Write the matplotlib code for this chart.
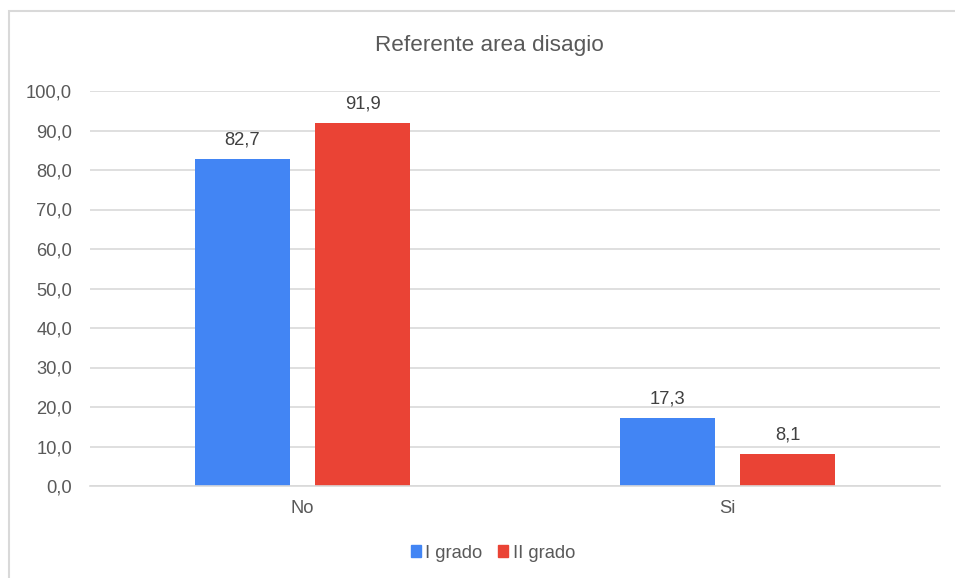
import matplotlib.pyplot as plt
import numpy as np
from matplotlib.patches import Patch, Rectangle

# Data.
categories = ["No", "Si"]
series_names = ["I grado", "II grado"]
grado_1 = [82.7, 17.3]
grado_2 = [91.9, 8.1]
y_ticks = np.arange(0, 101, 10)

colors = ["#4285F4", "#EA4335"]
grid_color = "#D9D9D9"
text_color = "#595959"

plt.rcParams["font.family"] = ["Liberation Sans", "DejaVu Sans"]

fig = plt.figure(figsize=(9.55, 5.78), dpi=100)
ax = fig.add_axes([90 / 955, 1 - 486 / 578, 850 / 955, 395 / 578])

x = np.arange(len(categories))
width = 0.2235
offset = 0.142

for vals, off, col in zip([grado_1, grado_2], [-offset, offset], colors):
    bars = ax.bar(x + off, vals, width=width, color=col, zorder=3)
    for b, v in zip(bars, vals):
        ax.annotate(
            f"{v:.1f}".replace(".", ","),
            (b.get_x() + b.get_width() / 2, v),
            xytext=(0, 7.5),
            textcoords="offset points",
            ha="center",
            va="bottom",
            fontsize=13.2,
            color="#404040",
        )

ax.set_xlim(-0.5, 1.5)
ax.set_ylim(0, 100)
ax.set_yticks(y_ticks)
ax.set_yticklabels([f"{t:.1f}".replace(".", ",") for t in y_ticks])
ax.set_xticks(x)
ax.set_xticklabels(categories)
ax.tick_params(axis="y", length=0, pad=13, labelsize=13.2, labelcolor=text_color)
ax.tick_params(axis="x", length=0, pad=10, labelsize=13.2, labelcolor=text_color)

ax.grid(axis="y", color=grid_color, linewidth=1.2, zorder=0)
for side in ["top", "right", "left"]:
    ax.spines[side].set_visible(False)
ax.spines["bottom"].set_color(grid_color)
ax.spines["bottom"].set_linewidth(1.2)
ax.spines["bottom"].set_zorder(4)

# Chart border (right and bottom edges fall outside the image).
fig.patches.append(
    Rectangle(
        (8.5 / 955, -0.1),
        1.2,
        1.1 - 11.5 / 578,
        transform=fig.transFigure,
        fill=False,
        edgecolor=grid_color,
        linewidth=1.5,
    )
)

fig.text(
    489.5 / 955,
    1 - 46 / 578,
    "Referente area disagio",
    ha="center",
    va="center",
    fontsize=16.2,
    color=text_color,
)

handles = [Patch(color=c, label=n) for c, n in zip(colors, series_names)]
fig.legend(
    handles=handles,
    loc="center",
    bbox_to_anchor=(493 / 955, 1 - 553 / 578),
    ncol=2,
    frameon=False,
    fontsize=13.2,
    labelcolor=text_color,
    handlelength=0.55,
    handleheight=0.55,
    handletextpad=0.25,
    columnspacing=0.85,
)

fig.savefig("out.png", dpi=100)
